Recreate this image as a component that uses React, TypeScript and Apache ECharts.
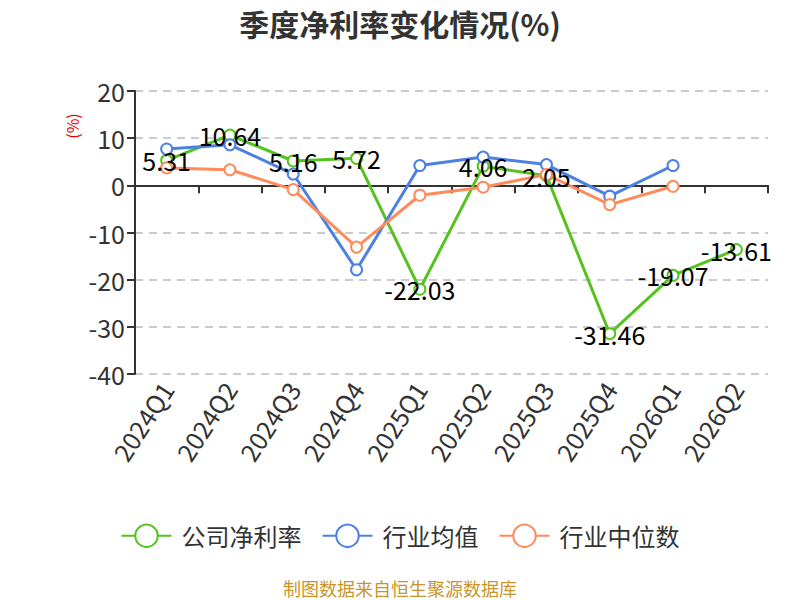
import React, { useEffect, useRef } from "react";
import * as echarts from "echarts";

const categories = ["2024Q1", "2024Q2", "2024Q3", "2024Q4", "2025Q1", "2025Q2", "2025Q3", "2025Q4", "2026Q1", "2026Q2"];
const companyRate = [5.31, 10.64, 5.16, 5.72, -22.03, 4.06, 2.05, -31.46, -19.07, -13.61];
const industryAvg = [7.7, 8.6, 2.4, -17.9, 4.2, 6.0, 4.4, -2.3, 4.2, null];
const industryMedian = [3.7, 3.3, -0.9, -13.1, -2.1, -0.4, 2.3, -4.1, -0.2, null];
const yTicks = { min: -40, max: 20, interval: 10 };

const FONT = "'Noto Sans CJK SC', 'Noto Sans', sans-serif";

export default function App() {
  const ref = useRef<HTMLDivElement>(null);
  useEffect(() => {
    if (!ref.current) return;
    const chart = echarts.init(ref.current, null, { renderer: "svg" });
    const mk = (name: string, data: (number | null)[], color: string, label: boolean) => ({
      name,
      type: "line",
      data,
      symbol: "emptyCircle",
      symbolSize: 11,
      showAllSymbol: true,
      itemStyle: { color, borderWidth: 2 },
      lineStyle: { color, width: 3 },
      label: label
        ? { show: true, position: "inside", color: "#000", fontSize: 25, fontFamily: FONT }
        : { show: false },
      emphasis: { disabled: true },
    });
    chart.setOption({
      animation: false,
      textStyle: { fontFamily: FONT },
      title: {
        text: "季度净利率变化情况(%)",
        left: "center",
        top: 3,
        textStyle: { fontSize: 30, fontWeight: "bold", color: "#333", fontFamily: FONT },
      },
      grid: { left: 135, right: 32, top: 91, bottom: 226, containLabel: false, outerBoundsMode: "none" },
      legend: {
        bottom: 47,
        left: "center",
        itemWidth: 50,
        itemHeight: 28,
        itemGap: 20,
        textStyle: { fontSize: 24, color: "#333", fontFamily: FONT, padding: [0, 0, 0, 5] },
        data: ["公司净利率", "行业均值", "行业中位数"],
      },
      xAxis: {
        type: "category",
        data: categories,
        boundaryGap: true,
        axisLine: { onZero: true, lineStyle: { color: "#333", width: 2 } },
        axisTick: { show: true, length: 8, lineStyle: { color: "#333", width: 2 } },
        axisLabel: { rotate: 57, fontSize: 25, color: "#333", margin: 10, fontFamily: FONT, interval: 0 },
      },
      yAxis: {
        type: "value",
        min: yTicks.min,
        max: yTicks.max,
        interval: yTicks.interval,
        axisLine: { show: true, lineStyle: { color: "#333", width: 2 } },
        axisTick: { show: true, length: 8, lineStyle: { color: "#333", width: 2 } },
        axisLabel: { fontSize: 25, color: "#333", margin: 10, fontFamily: FONT },
        splitLine: { lineStyle: { type: [8, 6], color: "#ccc", width: 2 } },
      },
      graphic: [
        {
          type: "text",
          x: 72,
          y: 126,
          rotation: Math.PI / 2,
          style: {
            text: "(%)",
            fill: "#e00",
            fontSize: 16,
            fontFamily: FONT,
            align: "center",
            verticalAlign: "middle",
          },
        },
        {
          type: "text",
          x: 400,
          y: 588,
          style: {
            text: "制图数据来自恒生聚源数据库",
            fill: "#c8952a",
            fontSize: 18,
            fontFamily: FONT,
            align: "center",
            verticalAlign: "middle",
          },
        },
      ],
      series: [
        mk("公司净利率", companyRate, "#55c21e", true),
        mk("行业均值", industryAvg, "#4c80e3", false),
        mk("行业中位数", industryMedian, "#ff8a5a", false),
      ],
    });
    return () => chart.dispose();
  }, []);
  return <div ref={ref} style={{ position: "absolute", left: 0, top: 0, width: 800, height: 600 }} />;
}
